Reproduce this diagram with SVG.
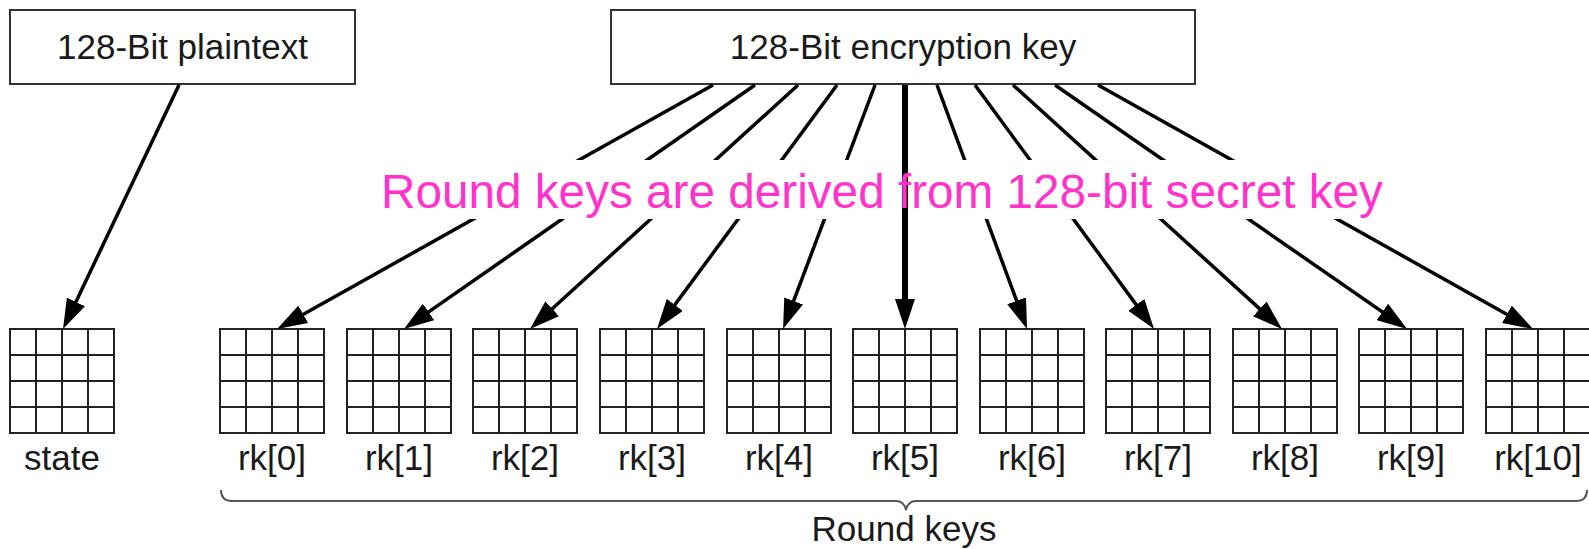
<svg xmlns="http://www.w3.org/2000/svg" xmlns:xlink="http://www.w3.org/1999/xlink" width="1589" height="549" viewBox="0 0 1589 549">
<style>
.box{fill:#fff;stroke:#333;stroke-width:2}
.t{font-family:"Liberation Sans",Arial,sans-serif;font-size:35px;fill:#1a1a1a;text-anchor:middle}
.note{font-family:"Liberation Sans",Arial,sans-serif;font-size:47.7px;fill:#ff33cc}
.grid{fill:#fff;stroke:#222;stroke-width:2}
.arr{stroke:#000;stroke-width:3.5;fill:none;marker-end:url(#ah)}
.thick{stroke-width:6}
.brace{fill:none;stroke:#555;stroke-width:2}
</style>
<defs>
<marker id="ah" markerUnits="userSpaceOnUse" markerWidth="30" markerHeight="20" viewBox="0 0 30 20" refX="10" refY="10" orient="auto">
<path d="M0,0 L30,10 L0,20 Z" fill="#000"/>
</marker>
<mask id="cut" maskUnits="userSpaceOnUse" x="0" y="0" width="1589" height="549">
<rect width="1589" height="549" fill="#fff"/>
<rect x="377" y="160" width="1012" height="59" fill="#000"/>
</mask>
<path id="grid" class="grid" d="M0 0H104V104H0Z M26 0V104 M52 0V104 M78 0V104 M0 26H104 M0 52H104 M0 78H104"/>
</defs>
<rect width="1589" height="549" fill="#fff"/>
<g id="plaintext">
<rect class="box" x="10" y="10" width="345" height="74"/>
<text class="t" x="182.5" y="59">128-Bit plaintext</text>
</g>
<g id="key">
<rect class="box" x="611" y="10" width="584" height="74"/>
<text class="t" x="903" y="59">128-Bit encryption key</text>
</g>
<g id="state"><use xlink:href="#grid" x="10" y="329"/><text class="t" x="62" y="470">state</text></g>
<g id="rk0"><use xlink:href="#grid" x="220" y="329"/><text class="t" x="272" y="470">rk[0]</text></g>
<g id="rk1"><use xlink:href="#grid" x="347" y="329"/><text class="t" x="399" y="470">rk[1]</text></g>
<g id="rk2"><use xlink:href="#grid" x="473" y="329"/><text class="t" x="525" y="470">rk[2]</text></g>
<g id="rk3"><use xlink:href="#grid" x="600" y="329"/><text class="t" x="652" y="470">rk[3]</text></g>
<g id="rk4"><use xlink:href="#grid" x="727" y="329"/><text class="t" x="779" y="470">rk[4]</text></g>
<g id="rk5"><use xlink:href="#grid" x="853" y="329"/><text class="t" x="905" y="470">rk[5]</text></g>
<g id="rk6"><use xlink:href="#grid" x="980" y="329"/><text class="t" x="1032" y="470">rk[6]</text></g>
<g id="rk7"><use xlink:href="#grid" x="1106" y="329"/><text class="t" x="1158" y="470">rk[7]</text></g>
<g id="rk8"><use xlink:href="#grid" x="1233" y="329"/><text class="t" x="1285" y="470">rk[8]</text></g>
<g id="rk9"><use xlink:href="#grid" x="1359" y="329"/><text class="t" x="1411" y="470">rk[9]</text></g>
<g id="rk10"><use xlink:href="#grid" x="1486" y="329"/><text class="t" x="1538" y="470">rk[10]</text></g>
<g id="connectors">
<line class="arr" x1="179" y1="85" x2="71.6" y2="310.9"/>
<g mask="url(#cut)">
<line class="arr" x1="713" y1="85" x2="294.5" y2="319.2"/>
<line class="arr" x1="755" y1="85" x2="420.4" y2="317.6"/>
<line class="arr" x1="798" y1="85" x2="544.8" y2="315.5"/>
<line class="arr" x1="837" y1="85" x2="668.9" y2="312.9"/>
<line class="arr" x1="875" y1="85" x2="790.1" y2="310.3"/>
<line class="arr" x1="937" y1="85" x2="1020.1" y2="310.2"/>
<line class="arr" x1="975" y1="85" x2="1142.2" y2="312.9"/>
<line class="arr" x1="1013" y1="85" x2="1267.2" y2="315.6"/>
<line class="arr" x1="1055" y1="85" x2="1390.6" y2="317.6"/>
<line class="arr" x1="1098" y1="85" x2="1515.6" y2="319.2"/>
</g>
<line class="arr thick" x1="905" y1="85" x2="905" y2="309"/>
</g>
<g id="brace">
<path class="brace" d="M221 490 Q221 501 232 501 L896 501 Q904 501 906 510 Q908 501 916 501 L1576 501 Q1587 501 1587 490"/>
<text class="t" x="904" y="541">Round keys</text>
</g>
<g id="note">
<text class="note" x="381" y="208">Round keys are derived from 128-bit secret key</text>
</g>
</svg>
